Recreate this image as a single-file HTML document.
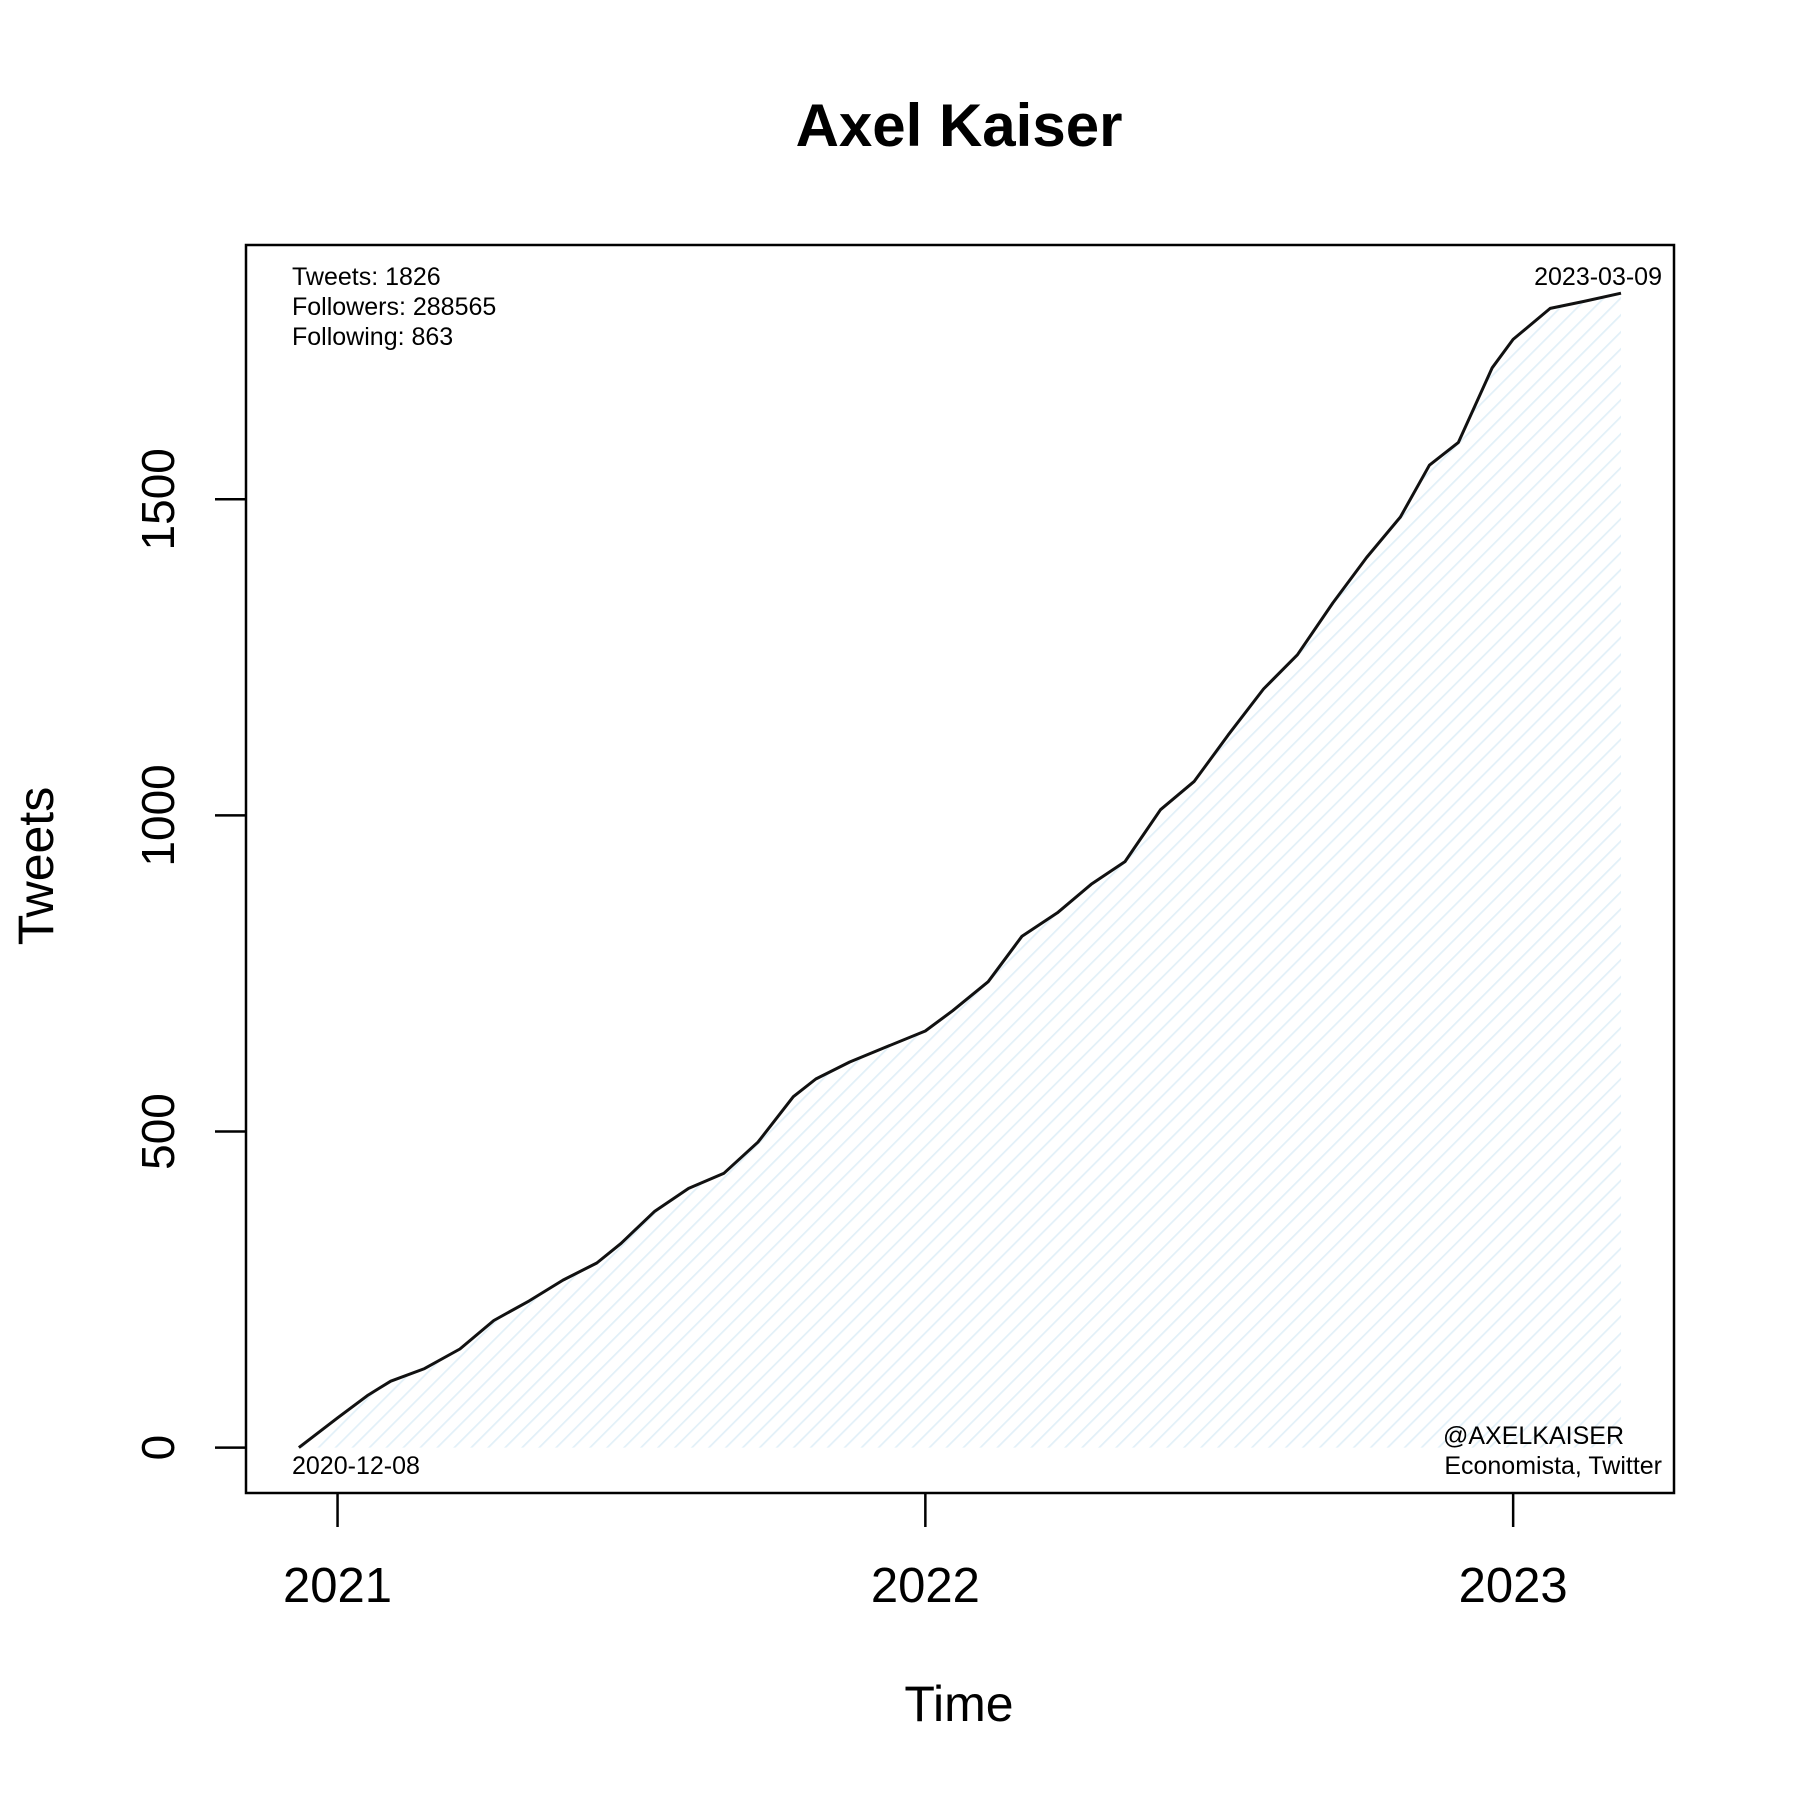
<!DOCTYPE html>
<html><head><meta charset="utf-8"><style>
body{margin:0;background:#fff}
svg{display:block;font-family:"Liberation Sans",Arial,sans-serif}
</style></head><body>
<svg id="chart" width="1800" height="1800" viewBox="0 0 1800 1800">
<defs>
<pattern id="hatch" patternUnits="userSpaceOnUse" width="12" height="12" patternTransform="rotate(45)">
<line x1="0" y1="0" x2="0" y2="12" stroke="#e2f0f8" stroke-width="3.5"/>
</pattern>
</defs>
<text x="959" y="146" text-anchor="middle" font-size="60" font-weight="bold">Axel Kaiser</text>
<g id="marks"></g>
<rect x="246" y="245" width="1428" height="1248" fill="none" stroke="#000" stroke-width="2.5"/>
<g id="axes"></g>
<text x="959" y="1721" text-anchor="middle" font-size="50">Time</text>
<text transform="translate(53,866) rotate(-90)" text-anchor="middle" font-size="50">Tweets</text>
<g font-size="25">
<text x="292" y="285">Tweets: 1826</text>
<text x="292" y="315">Followers: 288565</text>
<text x="292" y="345">Following: 863</text>
</g>
<text x="1662" y="285" text-anchor="end" font-size="25">2023-03-09</text>
<text x="292" y="1474" font-size="25">2020-12-08</text>
<text x="1443" y="1444" font-size="25">@AXELKAISER</text>
<text x="1662" y="1474" text-anchor="end" font-size="25">Economista, Twitter</text>
</svg>
<script>
// days since 2020-12-08
const days = [0,24,43,57,78,100,121,143,164,185,200,221,242,264,285,307,321,342,364,389,406,428,449,471,492,513,535,556,577,599,620,642,663,684,702,720,741,754,777,798,821];
const tweets = [0,47,83,105,125,156,201,232,265,292,323,374,410,434,483,555,583,610,633,659,691,737,809,846,891,927,1009,1054,1127,1200,1254,1336,1408,1472,1554,1590,1708,1753,1802,1813,1826];
const yTicks = [0,500,1000,1500];
const yTickLabels = ["0","500","1000","1500"];
const xTickDays = [24,389,754];
const xTickLabels = ["2021","2022","2023"];

const NS="http://www.w3.org/2000/svg";
function xScale(d){return 298.9 + d*(587.8/365);}
function yScale(v){return 1447.6 - v*(316.1/500);}
const marks=document.getElementById('marks');
const axes=document.getElementById('axes');
function mk(tag,attrs,parent){const e=document.createElementNS(NS,tag);for(const k in attrs)e.setAttribute(k,attrs[k]);parent.appendChild(e);return e;}

let pts=days.map((d,i)=>xScale(d).toFixed(1)+','+yScale(tweets[i]).toFixed(1));
let area=mk('polygon',{points:xScale(days[0])+','+yScale(0)+' '+pts.join(' ')+' '+xScale(days[days.length-1])+','+yScale(0),fill:'url(#hatch)'},marks);


let line=mk('polyline',{points:pts.join(' '),fill:'none',stroke:'#111','stroke-width':3,'stroke-linejoin':'round'},marks);



yTicks.forEach((v,i)=>{
  const y=yScale(v);
  const t=mk('line',{x1:215,x2:246,y1:y,y2:y,stroke:'#000','stroke-width':2.5},axes);
  
  
  const l=mk('text',{transform:`translate(174,${y}) rotate(-90)`,'text-anchor':'middle','font-size':46},axes);
  l.textContent=yTickLabels[i];
  
  
});
xTickDays.forEach((d,i)=>{
  const x=xScale(d);
  const t=mk('line',{x1:x,x2:x,y1:1493,y2:1527,stroke:'#000','stroke-width':2.5},axes);
  
  
  const l=mk('text',{x:x,y:1602,'text-anchor':'middle','font-size':49},axes);
  l.textContent=xTickLabels[i];
  
  
});
</script>
</body></html>
